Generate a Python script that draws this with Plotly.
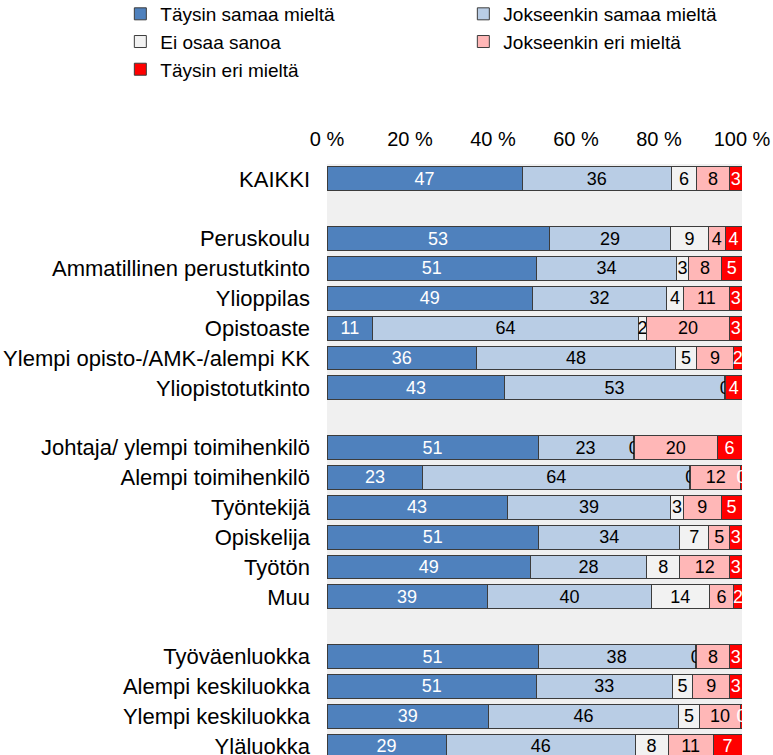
import plotly.graph_objects as go

# rows top to bottom; blank strings are the gaps between groups
categories = [
    "KAIKKI", " ",
    "Peruskoulu", "Ammatillinen perustutkinto", "Ylioppilas", "Opistoaste",
    "Ylempi opisto-/AMK-/alempi KK", "Yliopistotutkinto", "  ",
    "Johtaja/ ylempi toimihenkilö", "Alempi toimihenkilö", "Työntekijä",
    "Opiskelija", "Työtön", "Muu", "   ",
    "Työväenluokka", "Alempi keskiluokka", "Ylempi keskiluokka", "Yläluokka",
]
rows = [c for c in categories if c.strip()]

# shares in %, labels shown rounded ("0" = under half a percent)
taysin_samaa = [47, 53, 51, 49, 11, 36, 43, 51, 23, 43, 51, 49, 39, 51, 51, 39, 29]
jokseenkin_samaa = [36, 29, 34, 32, 64, 48, 53, 23, 64, 39, 34, 28, 40, 38, 33, 46, 46]
ei_osaa = [6, 9, 3, 4, 2, 5, 0.3, 0.3, 0.3, 3, 7, 8, 14, 0.3, 5, 5, 8]
jokseenkin_eri = [8, 4, 8, 11, 20, 9, 0, 20, 12, 9, 5, 12, 6, 8, 9, 10, 11]
taysin_eri = [3, 4, 5, 3, 3, 2, 4, 6, 0.3, 5, 3, 3, 2, 3, 3, 0.3, 7]

series = [
    ("Täysin samaa mieltä", taysin_samaa, "#4F81BD", "white"),
    ("Jokseenkin samaa mieltä", jokseenkin_samaa, "#B9CDE5", "black"),
    ("Ei osaa sanoa", ei_osaa, "#F2F2F2", "black"),
    ("Jokseenkin eri mieltä", jokseenkin_eri, "#FFB7B7", "black"),
    ("Täysin eri mieltä", taysin_eri, "#FF0000", "white"),
]

tick_vals = [0, 20, 40, 60, 80, 100]
tick_text = ["0 %", "20 %", "40 %", "60 %", "80 %", "100 %"]

FONT = "Liberation Sans, Arial, sans-serif"

fig = go.Figure()
for name, vals, color, txt_color in series:
    fig.add_trace(
        go.Bar(
            y=rows,
            x=vals,
            name=name,
            orientation="h",
            marker={"color": color, "line": {"color": "#3c3c3c", "width": 1}},
            text=[f"{v:.0f}" for v in vals],
            texttemplate="%{text}",
            textposition="inside",
            insidetextanchor="middle",
            textangle=0,
            constraintext="none",
            textfont={"size": 18, "color": txt_color, "family": FONT},
            hoverinfo="skip",
        )
    )

fig.update_layout(
    width=773,
    height=755,
    barmode="stack",
    barnorm="percent",
    bargap=0.2,
    paper_bgcolor="white",
    plot_bgcolor="#F0F0F0",
    font={"family": FONT, "size": 21, "color": "black"},
    margin={"l": 327, "r": 31, "t": 164, "b": 0, "pad": 0, "autoexpand": False},
    showlegend=True,
    legend={
        "orientation": "h",
        "x": -0.498,
        "xanchor": "left",
        "y": 1.286,
        "yanchor": "top",
        "entrywidth": 298,
        "itemwidth": 30,
        "font": {"size": 19},
        "traceorder": "normal",
        "bgcolor": "rgba(0,0,0,0)",
    },
    xaxis={
        "side": "top",
        "range": [0, 100],
        "tickvals": tick_vals,
        "ticktext": tick_text,
        "showgrid": False,
        "zeroline": False,
        "ticks": "",
        "ticklabelstandoff": 13,
        "ticklabeloverflow": "allow",
        "tickfont": {"size": 20},
    },
    yaxis={
        "type": "category",
        "categoryorder": "array",
        "categoryarray": categories,
        "range": [19.3, -0.5],
        "showgrid": False,
        "ticks": "",
        "ticklabelstandoff": 16,
        "tickfont": {"size": 22},
    },
)

# drop the default 8px body margin so the figure fills the window
fig.write_html(
    "out.html",
    config={"displayModeBar": False},
    post_script="document.body.style.margin = '0';",
)
